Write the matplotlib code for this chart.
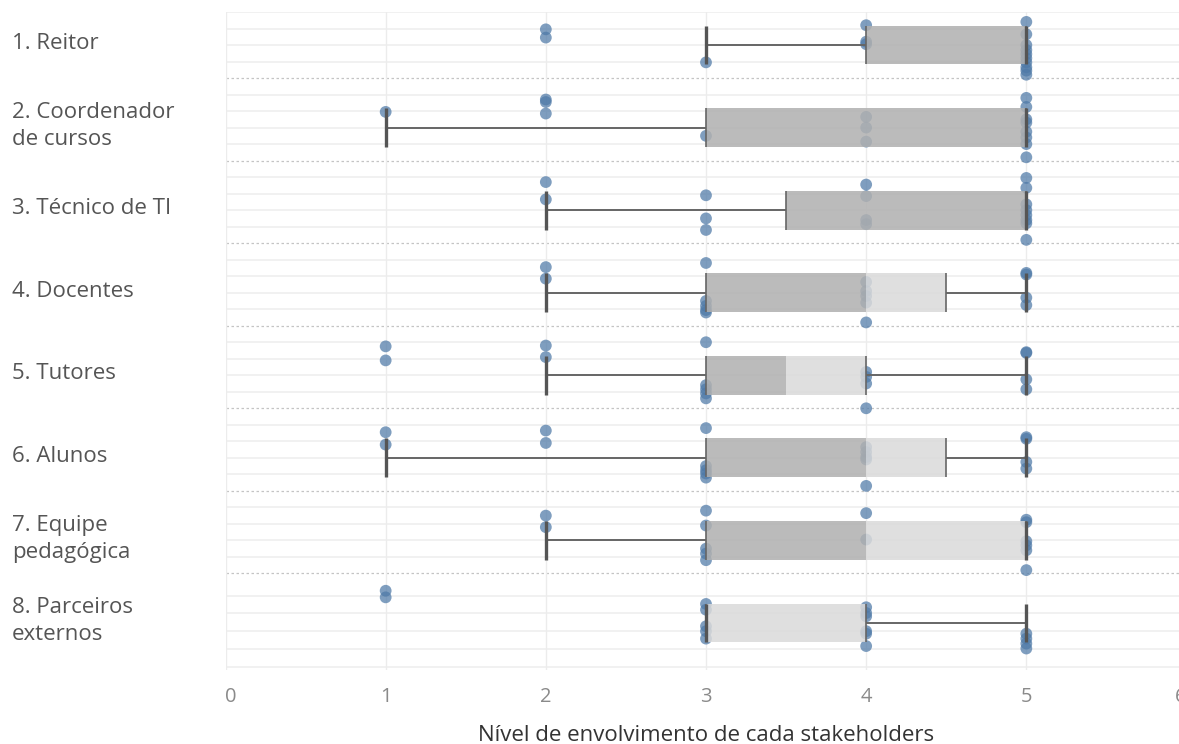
import matplotlib
matplotlib.use("Agg")
import matplotlib.pyplot as plt
import matplotlib.transforms as mtransforms

plt.rcParams["font.family"] = ["Open Sans", "DejaVu Sans"]

# Stakeholder groups (top to bottom)
stakeholders = [
    "1. Reitor",
    "2. Coordenador\nde cursos",
    "3. Técnico de TI",
    "4. Docentes",
    "5. Tutores",
    "6. Alunos",
    "7. Equipe\npedagógica",
    "8. Parceiros\nexternos",
]

# Individual answers per group, with the vertical jitter used for each dot
reitor = [2, 2, 3, 4, 4, 4, 5, 5, 5, 5, 5, 5, 5, 5, 5, 5]
reitor_jit = [-0.19, -0.09, 0.21, -0.24, -0.04, -0.01,
              -0.28, -0.13, 0.0, 0.06, 0.11, 0.16, 0.21, 0.27, 0.31, 0.36]

coordenador = [1, 2, 2, 2, 3, 4, 4, 4, 5, 5, 5, 5, 5, 5, 5, 5]
coordenador_jit = [-0.19, -0.34, -0.31, -0.17, 0.10, -0.13, 0.0, 0.17,
                   -0.36, -0.25, -0.10, -0.06, 0.05, 0.12, 0.20, 0.36]

tecnico = [2, 2, 3, 3, 3, 4, 4, 4, 4, 5, 5, 5, 5, 5, 5, 5, 5]
tecnico_jit = [-0.34, -0.13, -0.18, 0.10, 0.24, -0.31, -0.17, 0.12, 0.17,
               -0.39, -0.27, -0.07, 0.0, 0.06, 0.12, 0.16, 0.36]

docentes = [2, 2, 3, 3, 3, 3, 3, 4, 4, 4, 4, 4, 5, 5, 5, 5]
docentes_jit = [-0.31, -0.17, -0.36, 0.10, 0.16, 0.21, 0.24,
                -0.13, -0.02, 0.04, 0.12, 0.36, -0.24, -0.22, 0.06, 0.15]

tutores = [1, 1, 2, 2, 3, 3, 3, 3, 3, 4, 4, 4, 4, 5, 5, 5, 5]
tutores_jit = [-0.35, -0.18, -0.36, -0.22, -0.40, 0.12, 0.17, 0.22, 0.28,
               -0.04, 0.02, 0.10, 0.40, -0.28, -0.27, 0.05, 0.17]

alunos = [1, 1, 2, 2, 3, 3, 3, 3, 3, 4, 4, 4, 4, 4, 5, 5, 5, 5]
alunos_jit = [-0.31, -0.16, -0.33, -0.18, -0.36, 0.10, 0.15, 0.19, 0.24,
              -0.13, -0.07, -0.01, 0.02, 0.34, -0.25, -0.23, 0.05, 0.13]

equipe = [2, 2, 3, 3, 3, 3, 3, 4, 4, 5, 5, 5, 5, 5, 5]
equipe_jit = [-0.30, -0.16, -0.36, -0.18, 0.10, 0.16, 0.24, -0.33, -0.01,
              -0.25, -0.22, 0.01, 0.06, 0.12, 0.36]

parceiros = [1, 1, 3, 3, 3, 3, 3, 4, 4, 4, 4, 4, 4, 5, 5, 5, 5]
parceiros_jit = [-0.39, -0.31, -0.23, -0.16, 0.04, 0.10, 0.19,
                 -0.19, -0.12, -0.08, 0.10, 0.13, 0.28, 0.13, 0.19, 0.25, 0.31]

scores = [reitor, coordenador, tecnico, docentes, tutores, alunos, equipe, parceiros]
jitters = [reitor_jit, coordenador_jit, tecnico_jit, docentes_jit,
           tutores_jit, alunos_jit, equipe_jit, parceiros_jit]

# Box plot statistics for each group
whisker_low = [3, 1, 2, 2, 2, 1, 2, 3]
q1 = [4, 3, 3.5, 3, 3, 3, 3, 3]
median = [5, 5, 5, 4, 3.5, 4, 4, 3]
q3 = [5, 5, 5, 4.5, 4, 4.5, 5, 4]
whisker_high = [5, 5, 5, 5, 5, 5, 5, 5]

xticks = [0, 1, 2, 3, 4, 5, 6]

W, H = 1179, 744
fig = plt.figure(figsize=(W / 100, H / 100), dpi=100)
left_px, top_px, bottom_px = 225.5, 12, 670
ax = fig.add_axes([left_px / W, 1 - bottom_px / H, 961 / W, (bottom_px - top_px) / H])

n = len(stakeholders)
ax.set_xlim(0, 6)
ax.set_ylim(n - 0.43, -0.40)

# grid: light rows inside each band, dotted line between bands
for i in range(n):
    offsets = [-0.4, -0.2, 0.0, 0.2, 0.4]
    if i == n - 1:
        offsets = [-0.33, -0.12, 0.1, 0.32, 0.53]
    for off in offsets:
        y = i + off
        if off == 0.4 and i < n - 1:
            ax.axhline(y, color="#c4c4c4", lw=0.9, ls=(0, (2, 2)), zorder=0)
        else:
            ax.axhline(y, color="#efefef", lw=1.2, zorder=0)
for x in xticks:
    ax.axvline(x, color="#ececec", lw=1.0, zorder=0)

# dots
for i in range(n):
    ys = [i + j for j in jitters[i]]
    ax.scatter(scores[i], ys, s=72, color="#4e79a7", alpha=0.72,
               edgecolors="none", zorder=2)

# boxes and whiskers
half = 0.235
for i in range(n):
    if median[i] > q1[i]:
        ax.fill_between([q1[i], median[i]], i - half, i + half,
                        color="#b0b0b0", alpha=0.85, lw=0, zorder=3)
    if q3[i] > median[i]:
        ax.fill_between([median[i], q3[i]], i - half, i + half,
                        color="#dadada", alpha=0.85, lw=0, zorder=3)
    ax.vlines([q1[i], q3[i]], i - half, i + half, color="#666666", lw=1.2, zorder=4)
    if whisker_low[i] < q1[i]:
        ax.hlines(i, whisker_low[i], q1[i], color="#666666", lw=1.4, zorder=4)
    if whisker_high[i] > q3[i]:
        ax.hlines(i, q3[i], whisker_high[i], color="#666666", lw=1.4, zorder=4)
    ax.vlines([whisker_low[i], whisker_high[i]], i - half, i + half,
              color="#555555", lw=2.4, zorder=5)

# axes styling
for s in ax.spines.values():
    s.set_visible(False)
ax.set_yticks([])
ax.set_xticks(xticks)
ax.set_xticklabels([str(t) for t in xticks])
ax.tick_params(axis="x", length=0, pad=12, labelsize=14.5, labelcolor="#8a8a8a")
ticklabels = ax.get_xticklabels()
ticklabels[0].set_ha("left")
ticklabels[-1].set_ha("right")
ax.set_xlabel("Nível de envolvimento de cada stakeholders", fontsize=16,
              color="#333333", labelpad=13)

# group labels on the left
trans = mtransforms.blended_transform_factory(fig.transFigure, ax.transData)
for i, name in enumerate(stakeholders):
    ax.text(12 / W, i - 0.02, name, transform=trans, ha="left", va="center",
            fontsize=16, color="#555555", linespacing=1.4)

fig.savefig("out.png", dpi=100)
